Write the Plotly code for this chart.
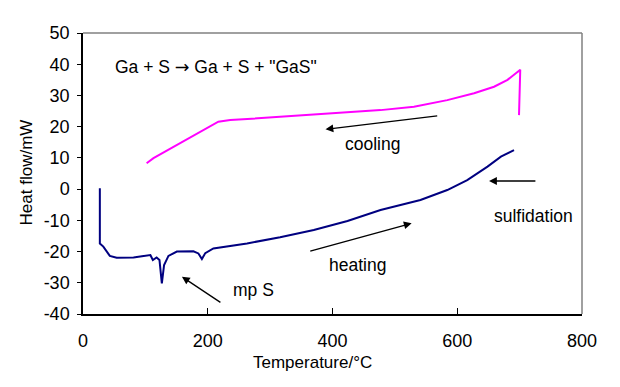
import plotly.graph_objects as go

# Heating run (temperature in °C, heat flow in mW)
heat_T = [27, 27, 32.6, 43, 54, 81, 108, 112, 118, 122.6, 126.4, 130, 137, 150.5, 177, 185,
          190.6, 196, 209, 263, 316, 370, 424, 477, 541, 584, 616, 648.5, 670, 691]
heat_Q = [0.3, -17.4, -18.4, -21.4, -22.0, -21.9, -21.1, -22.7, -21.9, -22.7, -30.2, -24.3, -21.4,
          -20.0, -19.9, -20.6, -22.4, -20.5, -19.0, -17.4, -15.4, -13.1, -10.2, -6.7, -3.5, -0.3,
          2.9, 7.2, 10.4, 12.5]

# Cooling run
cool_T = [699, 701, 694, 680.6, 659, 627, 584, 530.6, 477, 316.5, 236, 217, 156, 113, 102]
cool_Q = [23.7, 38.2, 37.1, 35.0, 32.8, 30.7, 28.5, 26.4, 25.3, 23.2, 22.1, 21.6, 14.7, 9.9, 8.3]

x_ticks = [0, 200, 400, 600, 800]
y_ticks = [-40, -30, -20, -10, 0, 10, 20, 30, 40, 50]
y_tick_text = ["-40", "-30", "-20", "-10", "0", "10", "20", "30", "40", "50"]

FONT = "Arial, Liberation Sans, sans-serif"

fig = go.Figure()
fig.add_trace(go.Scatter(x=heat_T, y=heat_Q, mode="lines",
                         line=dict(color="#000080", width=2), showlegend=False))
fig.add_trace(go.Scatter(x=cool_T, y=cool_Q, mode="lines",
                         line=dict(color="#ff00ff", width=2), showlegend=False))

# text labels
texts = [
    ("Ga + S <span style=\"font-family:DejaVu Sans\">\u2192</span> Ga + S + \"GaS\"", 48, 39.1, "left"),
    ("cooling", 463.5, 14.6, "center"),
    ("heating", 439.4, -24.4, "center"),
    ("sulfidation", 722, -8.6, "center"),
    ("mp S", 274, -32.3, "center"),
]
for t, x, y, anc in texts:
    fig.add_annotation(x=x, y=y, text=t, showarrow=False, xanchor=anc, yanchor="middle",
                       font=dict(family=FONT, size=17.5, color="black"))

# arrows: (head_x, head_y, tail_x, tail_y)
arrows = [
    (388.8, 19.15, 570.3, 23.5),
    (526.9, -10.95, 361.9, -19.98),
    (651, 2.6, 727.7, 2.6),
    (158.6, -28.06, 222.7, -36.6),
]
for hx, hy, tx, ty in arrows:
    fig.add_annotation(x=hx, y=hy, ax=tx, ay=ty, axref="x", ayref="y", text="",
                       showarrow=True, arrowhead=2, arrowsize=1.2, arrowwidth=1.3,
                       arrowcolor="black")

# axis titles
fig.add_annotation(xref="paper", yref="paper", x=0.459, y=0, yshift=-48,
                   text="Temperature/\u00b0C", showarrow=False, xanchor="center", yanchor="middle",
                   font=dict(family=FONT, size=17, color="black"))
fig.add_annotation(xref="paper", yref="paper", x=-0.1132, y=0.502, textangle=-90,
                   text="Heat flow/mW", showarrow=False, xanchor="center", yanchor="middle",
                   font=dict(family=FONT, size=17, color="black"))

fig.update_xaxes(range=[0, 800], tickvals=x_ticks, showline=True, linecolor="black",
                 linewidth=1.5, ticks="inside", ticklen=6, tickcolor="black",
                 showgrid=False, zeroline=False, ticklabelstandoff=10, automargin=False,
                 tickfont=dict(family=FONT, size=18, color="black"))
fig.update_yaxes(range=[-40, 50], tickvals=y_ticks, ticktext=y_tick_text, showline=True,
                 linecolor="black", linewidth=1.5, ticks="outside", ticklen=4, tickcolor="black",
                 showgrid=False, zeroline=False, ticklabelstandoff=4, automargin=False,
                 tickfont=dict(family=FONT, size=18, color="black"))

# gray frame on top and right
fig.add_shape(type="line", xref="paper", yref="paper", x0=0, x1=1, y0=1, y1=1,
              line=dict(color="#808080", width=1.5))
fig.add_shape(type="line", xref="paper", yref="paper", x0=1, x1=1, y0=0, y1=1,
              line=dict(color="#808080", width=1.5))

fig.update_layout(width=620, height=387, margin=dict(l=75, r=46, t=25, b=81),
                  paper_bgcolor="white", plot_bgcolor="white",
                  font=dict(family=FONT, color="black"))

fig.write_html("out.html")
